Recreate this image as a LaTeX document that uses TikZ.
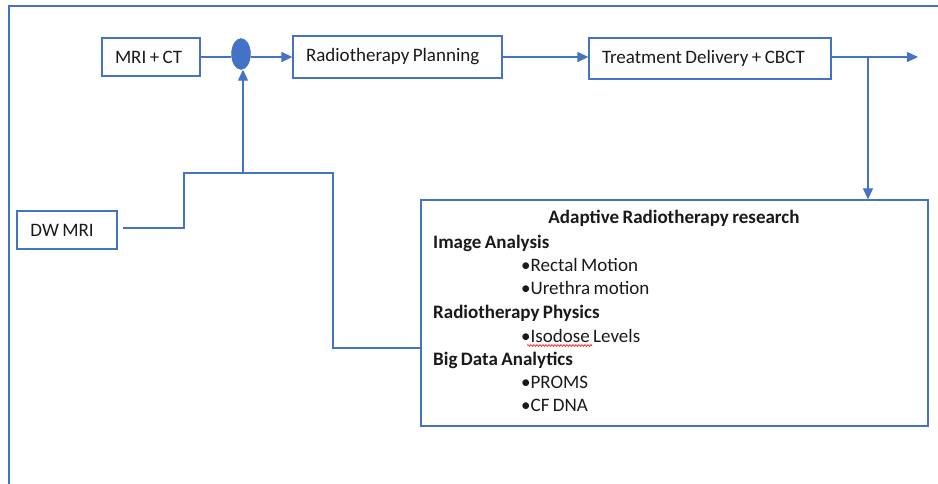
\documentclass[tikz,border=0pt]{standalone}
\usepackage{fontspec}
\setmainfont{Carlito}[WordSpace=0.8]
\usetikzlibrary{arrows.meta,shapes.geometric,decorations.pathmorphing}
\definecolor{lineblue}{HTML}{4472C4}
\definecolor{txt}{HTML}{1A1A1A}
\begin{document}
\begin{tikzpicture}[x=1pt,y=-1pt,
  box/.style={draw=lineblue,line width=1.3pt,rectangle,inner xsep=13pt,inner ysep=0pt,align=flush left,font=\fontsize{19}{22}\selectfont,text=txt},
  conn/.style={draw=lineblue,line width=1.3pt},
  arr/.style={conn,-{Triangle[length=11pt,width=10pt]}},
  bodytxt/.style={anchor=base west,inner sep=0pt,font=\fontsize{19}{22}\selectfont,text=txt},
  headtxt/.style={anchor=base west,inner sep=0pt,font=\fontsize{19}{22}\selectfont\bfseries,text=txt}]
\useasboundingbox (0,0) rectangle (938,484);
\fill[white] (0,0) rectangle (938,484);
% outer frame
\draw[lineblue,line width=1.2pt] (9,484) -- (9,6) -- (938,6);
% boxes
\node[box,text width=72pt,minimum height=38pt] (mri) at (151,57) {MRI + CT};
\node[ellipse,fill=lineblue,draw=lineblue,minimum width=19pt,minimum height=31pt,inner sep=0pt] (ell) at (241,54) {};
\node[box,text width=183pt,minimum height=42pt] (rp) at (397.5,57) {Radiotherapy Planning};
\node[box,text width=216pt,minimum height=41pt] (td) at (710,58.5) {Treatment Delivery + CBCT};
\node[box,text width=73pt,inner xsep=13.5pt,minimum height=38pt] (dw) at (67,230) {DW MRI};
\node[draw=lineblue,line width=1.3pt,minimum width=507pt,minimum height=226pt,inner sep=0pt] (big) at (674.5,313) {};
% big box contents
\node[anchor=base,inner sep=0pt,font=\fontsize{19}{22}\selectfont\bfseries,text=txt] (title) at (674,224) {Adaptive Radiotherapy research};
\node[headtxt] (h1) at (433,248) {Image Analysis};
\node[bodytxt] (b1) at (521,271) {•Rectal Motion};
\node[bodytxt] (b2) at (521,294) {•Urethra motion};
\node[headtxt] (h2) at (433,318) {Radiotherapy Physics};
\node[bodytxt] (b3) at (521,342) {•Isodose Levels};
\node[headtxt] (h3) at (433,365) {Big Data Analytics};
\node[bodytxt] (b4) at (521,388) {•PROMS};
\node[bodytxt] (b5) at (521,411) {•CF DNA};
\draw[red,line width=0.6pt,decorate,decoration={snake,segment length=3pt,amplitude=0.9pt}] (527,345.5) -- (592,345.5);
% connectors
\coordinate (out) at (918,57);
\coordinate (split) at (868,57);
\coordinate (dwstart) at (123,228);
\coordinate (j1) at (184,173);
\coordinate (j2) at (243,173);
\coordinate (j3) at (333,173);
\coordinate (bigin) at (420,348);
\draw[conn] (mri.east |- 0,57) -- (ell.west |- 0,57);
\draw[arr] (ell.east |- 0,57) -- (rp.west |- 0,57);
\draw[arr] (rp.east |- 0,57) -- (td.west |- 0,57);
\draw[arr] (td.east |- 0,57) -- (out);
\draw[arr] (split) -- (split |- big.north);
\draw[conn] (dwstart) -| (j1) -- (j3) |- (bigin);
\draw[arr] (j2) -- (j2 |- ell.south);
\end{tikzpicture}
\end{document}
